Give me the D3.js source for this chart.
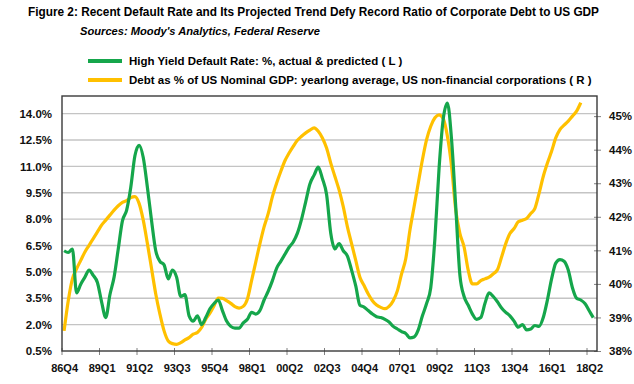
<!DOCTYPE html>
<html>
<head>
<meta charset="utf-8">
<script src="https://cdn.jsdelivr.net/npm/d3@7.9.0/dist/d3.min.js"></script>
<style>
  body { margin: 0; background: #fff; }
  svg { display: block; font-family: "Liberation Sans", Arial, sans-serif; font-weight: bold; }
</style>
</head>
<body>
<svg id="chart" width="634" height="384"></svg>
<script>
const title = 'Figure 2: Recent Default Rate and Its Projected Trend Defy Record Ratio of Corporate Debt to US GDP';
const sources = "Sources: Moody's Analytics, Federal Reserve";
const seriesNames = [
  'High Yield Default Rate: %, actual & predicted ( L )',
  'Debt as % of US Nominal GDP: yearlong average, US non-financial corporations ( R )'
];

// x tick labels, one every 9 quarters starting 86Q4
const tickLabels = ['86Q4', '89Q1', '91Q2', '93Q3', '95Q4', '98Q1', '00Q2', '02Q3',
  '04Q4', '07Q1', '09Q2', '11Q3', '13Q4', '16Q1', '18Q2'];
const tickStep = 9;
const leftTicks = [0.5, 2.0, 3.5, 5.0, 6.5, 8.0, 9.5, 11.0, 12.5, 14.0];
const rightTicks = [38, 39, 40, 41, 42, 43, 44, 45];

// quarterly, 86Q4 .. 18Q3 (left axis, %)
const defaultRate = [
  6.2, 6.1, 6.3, 3.8, 4.3, 4.7, 5.1, 4.8, 4.4, 3.3,
  2.4, 3.7, 4.7, 6.3, 7.9, 8.5, 9.8, 11.6, 12.2, 11.5,
  9.8, 7.9, 6.2, 5.6, 5.4, 4.6, 5.1, 4.7, 3.6, 3.7,
  2.5, 2.2, 2.5, 2.0, 2.4, 2.9, 3.2, 3.4, 2.8, 2.2,
  1.9, 1.8, 1.8, 2.1, 2.3, 2.7, 2.6, 2.8, 3.4, 3.9,
  4.5, 5.2, 5.6, 6.0, 6.4, 6.7, 7.2, 8.0, 9.0, 10.0,
  10.5, 10.95, 10.3, 9.4, 7.2, 6.3, 6.6, 6.2, 5.9, 5.1,
  4.2, 3.1, 3.0, 2.8, 2.6, 2.45, 2.4, 2.3, 2.15, 1.9,
  1.75, 1.6, 1.5, 1.25, 1.3, 1.7, 2.5, 3.2, 4.1, 6.9,
  10.9, 13.7, 14.6, 12.5, 8.7, 4.8, 3.6, 3.1, 2.6, 2.3,
  2.4, 3.2, 3.8, 3.6, 3.3, 2.95, 2.7, 2.5, 2.2, 1.85,
  2.0, 1.7, 1.75, 1.95, 1.9, 2.4, 3.4, 4.6, 5.5, 5.7,
  5.6, 5.1, 4.1, 3.5, 3.4, 3.2, 2.8, 2.4
];

// quarterly, 86Q4 .. 17Q4 (right axis, %)
const debtToGdp = [
  38.6, 39.5, 40.15, 40.45, 40.7, 40.95, 41.15, 41.35, 41.55, 41.75,
  41.9, 42.05, 42.2, 42.33, 42.43, 42.48, 42.57, 42.6, 42.4, 41.9,
  41.2, 40.45, 39.7, 39.1, 38.6, 38.3, 38.22, 38.2, 38.25, 38.33,
  38.4, 38.5, 38.55, 38.7, 38.95, 39.13, 39.35, 39.58, 39.57, 39.5,
  39.42, 39.32, 39.28, 39.33, 39.55, 40.1, 40.65, 41.2, 41.7, 42.1,
  42.6, 43.0, 43.35, 43.67, 43.9, 44.1, 44.28, 44.4, 44.5, 44.58,
  44.65, 44.55, 44.35, 44.05, 43.6, 43.2, 42.8, 42.3, 41.7, 41.2,
  40.7, 40.2, 39.95, 39.7, 39.5, 39.37, 39.3, 39.26, 39.33, 39.5,
  39.8, 40.3, 40.75, 41.6, 42.3, 43.0, 43.7, 44.3, 44.7, 44.95,
  45.04, 44.92, 44.4, 43.5, 42.2, 41.5, 41.1, 40.4, 40.0, 40.0,
  40.1, 40.15, 40.2, 40.3, 40.42, 40.8, 41.2, 41.5, 41.65, 41.85,
  41.9, 41.95, 42.1, 42.25, 42.7, 43.2, 43.6, 43.95, 44.35, 44.6,
  44.73, 44.85, 45.0, 45.15, 45.4
];

const green = '#15a64b';
const gold = '#ffc000';

const plot = { left: 62, right: 597, top: 96, bottom: 351 };

const svg = d3.select('#chart');

const x = d3.scaleLinear().domain([-0.5, 127.9]).range([plot.left, plot.right]);
const yL = d3.scaleLinear().domain([0.5, 15]).range([plot.bottom, plot.top]);
const yR = d3.scaleLinear().domain([38, 45.6]).range([plot.bottom, plot.top]);

// title block
svg.append('text')
  .attr('x', 28).attr('y', 16)
  .attr('font-size', 12.5)
  .attr('textLength', 571).attr('lengthAdjust', 'spacingAndGlyphs')
  .text(title);
svg.append('text')
  .attr('x', 80).attr('y', 35)
  .attr('font-size', 11.5).attr('font-style', 'italic')
  .attr('textLength', 240).attr('lengthAdjust', 'spacingAndGlyphs')
  .text(sources);

// legend
const legendRows = [61, 80];
[green, gold].forEach((c, i) => {
  svg.append('line')
    .attr('x1', 88).attr('x2', 122)
    .attr('y1', legendRows[i]).attr('y2', legendRows[i])
    .attr('stroke', c).attr('stroke-width', 4);
  svg.append('text')
    .attr('x', 129).attr('y', legendRows[i]).attr('dy', '0.35em')
    .attr('font-size', 11.5)
    .text(seriesNames[i]);
});

// gridlines
svg.append('g')
  .selectAll('line')
  .data(leftTicks.slice(1))
  .join('line')
  .attr('x1', plot.left).attr('x2', plot.right)
  .attr('y1', d => yL(d)).attr('y2', d => yL(d))
  .attr('stroke', '#c4c4c4').attr('stroke-width', 1.4);

// left axis labels
const leftAxis = svg.append('g')
  .attr('transform', `translate(${plot.left},0)`)
  .call(d3.axisLeft(yL).tickValues(leftTicks).tickFormat(d => d.toFixed(1) + '%').tickSize(0).tickPadding(10));
leftAxis.select('.domain').remove();

// right axis with small ticks crossing the frame
const rightAxis = svg.append('g')
  .attr('transform', `translate(${plot.right},0)`)
  .call(d3.axisRight(yR).tickValues(rightTicks).tickFormat(d => d + '%').tickSize(4).tickPadding(8));
rightAxis.select('.domain').remove();
rightAxis.selectAll('.tick line').attr('x1', -3).attr('stroke', '#808080');

// bottom axis labels
const bottomAxis = svg.append('g')
  .attr('transform', `translate(0,${plot.bottom})`)
  .call(d3.axisBottom(x).tickValues(tickLabels.map((_, k) => k * tickStep))
    .tickFormat((d, k) => tickLabels[k]).tickSize(0).tickPadding(13));
bottomAxis.select('.domain').remove();

// category tick marks between quarters
svg.append('g')
  .selectAll('line')
  .data(tickLabels.map((_, k) => k * tickStep - 0.5))
  .join('line')
  .attr('x1', d => x(d)).attr('x2', d => x(d))
  .attr('y1', plot.bottom - 3).attr('y2', plot.bottom + 4)
  .attr('stroke', '#808080');

svg.selectAll('.tick text').attr('fill', '#111').attr('font-size', 11.5).attr('font-weight', 'bold')
  .attr('font-family', '"Liberation Sans", Arial, sans-serif');
bottomAxis.selectAll('.tick text').attr('font-size', 11);

// series
const lineL = d3.line().x((d, i) => x(i)).y(d => yL(d)).curve(d3.curveMonotoneX);
const lineR = d3.line().x((d, i) => x(i)).y(d => yR(d)).curve(d3.curveMonotoneX);

svg.append('path')
  .datum(debtToGdp)
  .attr('d', lineR)
  .attr('fill', 'none').attr('stroke', gold).attr('stroke-width', 3.2)
  .attr('stroke-linejoin', 'round');

svg.append('path')
  .datum(defaultRate)
  .attr('d', lineL)
  .attr('fill', 'none').attr('stroke', green).attr('stroke-width', 3.2)
  .attr('stroke-linejoin', 'round');

// plot frame
svg.append('rect')
  .attr('x', plot.left).attr('y', plot.top)
  .attr('width', plot.right - plot.left).attr('height', plot.bottom - plot.top)
  .attr('fill', 'none').attr('stroke', '#3a3a3a').attr('stroke-width', 1.4);
</script>
</body>
</html>
